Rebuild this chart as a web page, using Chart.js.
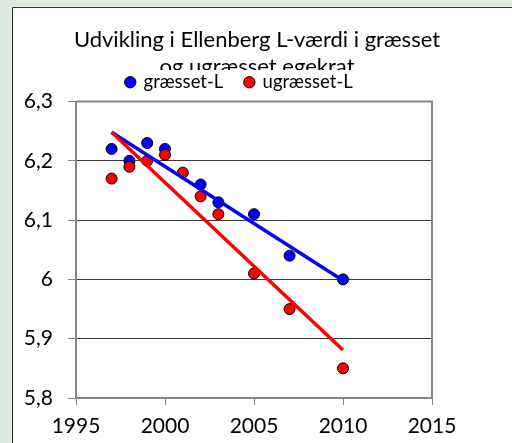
<!DOCTYPE html>
<html>
<head>
<meta charset="utf-8">
<script src="https://cdn.jsdelivr.net/npm/chart.js@4"></script>
<style>
  html, body { margin: 0; padding: 0; background: #fff; overflow: hidden; }
  canvas { display: block; }
</style>
</head>
<body>
<canvas id="chart" width="512" height="443"></canvas>
<script>
const titleLines = ["Udvikling i Ellenberg L-værdi i græsset", "og ugræsset egekrat"];

const blueYears = [1997, 1998, 1999, 2000, 2002, 2003, 2005, 2007, 2010];
const blueValues = [6.22, 6.20, 6.23, 6.22, 6.16, 6.13, 6.11, 6.04, 6.00];

const redYears = [1997, 1998, 1999, 2000, 2001, 2002, 2003, 2005, 2007, 2010];
const redValues = [6.17, 6.19, 6.20, 6.21, 6.18, 6.14, 6.11, 6.01, 5.95, 5.85];

// trendline ends
const trendYears = [1997, 2010];
const blueTrend = [6.248, 5.998];
const redTrend = [6.248, 5.881];

const FONT = "Lato, 'Liberation Sans', sans-serif";
const GRAY = "#868686";

function toPoints(xs, ys) {
  return xs.map((x, i) => ({ x: x, y: ys[i] }));
}

function fmt(v) {
  return String(Number(v.toFixed(1))).replace(".", ",");
}

// green page, white chart sheet, then the title (second line cut under the legend, like the original)
const backdrop = {
  id: "backdrop",
  beforeDraw(chart) {
    const ctx = chart.ctx;
    ctx.save();
    ctx.fillStyle = "#dbe9df";
    ctx.fillRect(0, 0, chart.width, chart.height);
    ctx.fillStyle = "#fff";
    ctx.fillRect(12, 7, chart.width - 12, chart.height - 7);
    ctx.strokeStyle = "#333";
    ctx.lineWidth = 1;
    ctx.beginPath();
    ctx.moveTo(12.5, chart.height);
    ctx.lineTo(12.5, 7.5);
    ctx.lineTo(chart.width, 7.5);
    ctx.stroke();

    ctx.beginPath();
    ctx.rect(0, 0, chart.width, 70);
    ctx.clip();
    ctx.fillStyle = "#000";
    ctx.font = "22px " + FONT;
    ctx.textAlign = "center";
    ctx.textBaseline = "alphabetic";
    ctx.fillText(titleLines[0], 257, 47);
    ctx.fillText(titleLines[1], 257, 74);
    ctx.restore();
  }
};

const plotFrame = {
  id: "plotFrame",
  afterDatasetsDraw(chart) {
    const a = chart.chartArea;
    const ctx = chart.ctx;
    ctx.save();
    ctx.strokeStyle = GRAY;
    ctx.lineWidth = 2;
    ctx.beginPath();
    ctx.moveTo(a.left, a.top);
    ctx.lineTo(a.right, a.top);
    ctx.lineTo(a.right, a.bottom);
    ctx.stroke();
    ctx.restore();
  }
};

new Chart(document.getElementById("chart").getContext("2d"), {
  type: "scatter",
  data: {
    datasets: [
      { label: "græsset-L", data: toPoints(blueYears, blueValues), backgroundColor: "#0000ff",
        borderColor: "#000", borderWidth: 1, pointRadius: 5.5, order: 4 },
      { label: "ugræsset-L", data: toPoints(redYears, redValues), backgroundColor: "#ff0000",
        borderColor: "#000", borderWidth: 1, pointRadius: 5.5, order: 3 },
      { label: "trend græsset", data: toPoints(trendYears, blueTrend), showLine: true,
        borderColor: "#0000ff", borderWidth: 3.5, pointRadius: 0, order: 2 },
      { label: "trend ugræsset", data: toPoints(trendYears, redTrend), showLine: true,
        borderColor: "#ff0000", borderWidth: 3.5, pointRadius: 0, order: 1 }
    ]
  },
  options: {
    responsive: false,
    animation: false,
    layout: { padding: { top: 51, left: 20, right: 53, bottom: 0 } },
    plugins: {
      tooltip: { enabled: false },
      title: { display: false },
      legend: {
        position: "top",
        maxHeight: 52,
        labels: {
          usePointStyle: true, boxWidth: 8, boxHeight: 8, padding: 22, color: "#000",
          font: { family: FONT, size: 18.5 },
          filter: item => item.datasetIndex < 2,
          sort: (a, b) => a.datasetIndex - b.datasetIndex
        }
      }
    },
    scales: {
      x: {
        type: "linear", min: 1995, max: 2015,
        ticks: { stepSize: 5, color: "#000", padding: 9, font: { family: FONT, size: 21 }, callback: v => String(v) },
        grid: {
          color: c => (c.tick && c.tick.value === 2015 ? GRAY : "rgba(0,0,0,0)"),
          tickColor: GRAY, tickLength: 7, lineWidth: 1
        },
        border: { color: GRAY, width: 2 },
        afterFit: s => { s.height = 45; }
      },
      y: {
        min: 5.8, max: 6.3,
        ticks: { stepSize: 0.1, color: "#000", padding: 15, font: { family: FONT, size: 21 }, callback: v => fmt(v) },
        grid: { color: c => (c.index === 5 ? GRAY : "#3c3c3c"), tickColor: GRAY, tickLength: 8, lineWidth: 1 },
        border: { color: GRAY, width: 2 },
        afterFit: s => { s.width = 56; }
      },
      // empty axis on the right, only there to hold the space right of the plot
      spacer: {
        position: "right", display: true,
        ticks: { display: false }, grid: { display: false }, border: { display: false },
        afterFit: s => { s.width = 27; }
      }
    }
  },
  plugins: [backdrop, plotFrame]
});
</script>
</body>
</html>
